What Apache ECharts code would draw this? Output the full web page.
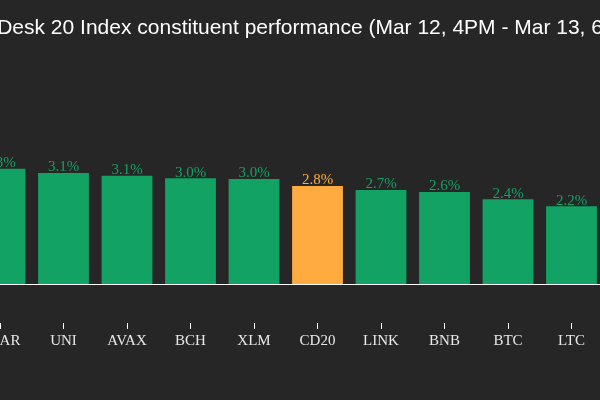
<!DOCTYPE html>
<html>
<head>
<meta charset="utf-8">
<script src="https://cdn.jsdelivr.net/npm/echarts@6/dist/echarts.min.js"></script>
<style>
  html, body { margin: 0; padding: 0; background: #262626; }
  #chart { width: 600px; height: 400px; }
</style>
</head>
<body>
<div id="chart"></div>
<script>
const titleText = 'CoinDesk 20 Index constituent performance (Mar 12, 4PM - Mar 13, 6PM ET)';
const categories = ['NEAR', 'UNI', 'AVAX', 'BCH', 'XLM', 'CD20', 'LINK', 'BNB', 'BTC', 'LTC'];
const values = [3.26, 3.14, 3.06, 2.99, 2.97, 2.77, 2.66, 2.60, 2.40, 2.20];
const indexName = 'CD20';

const GREEN = '#12a263';
const ORANGE = '#ffab40';

const seriesData = values.map((v, i) => {
  const c = categories[i] === indexName ? ORANGE : GREEN;
  return { value: v, itemStyle: { color: c }, label: { color: c } };
});

const chart = echarts.init(document.getElementById('chart'));
chart.setOption({
  backgroundColor: '#262626',
  animation: false,
  title: {
    text: titleText,
    left: -51,
    top: 13,
    textStyle: { color: '#ffffff', fontFamily: 'Liberation Sans', fontSize: 21, fontWeight: 'normal' }
  },
  grid: {
    left: -31.75, right: -3.25, top: 142.5, bottom: 77,
    containLabel: false,
    outerBoundsMode: 'none'
  },
  xAxis: {
    type: 'category',
    data: categories,
    axisLine: { show: false, onZero: false },
    axisTick: { show: true, alignWithLabel: true, length: 6, lineStyle: { color: '#ffffff' } },
    axisLabel: { color: '#e8e8e8', fontFamily: 'Liberation Serif', fontSize: 15, margin: 11, interval: 0 }
  },
  yAxis: {
    type: 'value',
    min: -1.1,
    max: 4,
    show: false,
    splitLine: { show: false }
  },
  series: [{
    type: 'bar',
    data: seriesData,
    barCategoryGap: '20%',
    label: {
      show: true,
      position: 'top',
      distance: -2,
      fontFamily: 'Liberation Serif',
      fontSize: 15,
      formatter: p => p.value.toFixed(1) + '%'
    },
    markLine: {
      silent: true,
      symbol: 'none',
      label: { show: false },
      lineStyle: { color: '#ffffff', type: 'solid', width: 1 },
      data: [{ yAxis: 0 }]
    }
  }]
});
</script>
</body>
</html>
